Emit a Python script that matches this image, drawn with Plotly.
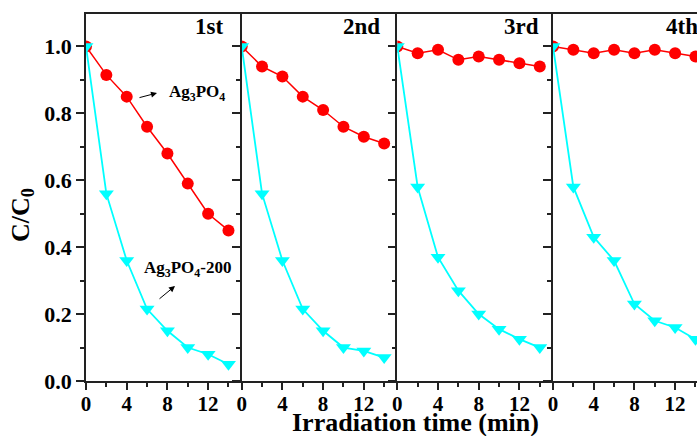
import plotly.graph_objects as go

# ---- data ----
time_min = [0, 2, 4, 6, 8, 10, 12, 14]
cycles = ["1st", "2nd", "3rd", "4th"]
ag3po4 = [
    [1.0, 0.915, 0.85, 0.76, 0.68, 0.59, 0.50, 0.45],
    [1.0, 0.94, 0.91, 0.85, 0.81, 0.76, 0.73, 0.71],
    [1.0, 0.98, 0.99, 0.96, 0.97, 0.96, 0.95, 0.94],
    [1.0, 0.99, 0.98, 0.99, 0.98, 0.99, 0.98, 0.97],
]
ag3po4_200 = [
    [1.0, 0.56, 0.36, 0.215, 0.15, 0.10, 0.08, 0.05],
    [1.0, 0.56, 0.36, 0.215, 0.15, 0.10, 0.09, 0.07],
    [1.0, 0.58, 0.37, 0.27, 0.20, 0.155, 0.125, 0.10],
    [1.0, 0.58, 0.43, 0.36, 0.23, 0.18, 0.16, 0.125],
]
x_ticks = [0, 4, 8, 12]

# ---- layout geometry ----
W, H = 697, 436
L, R, T, B = 86, 0, 14, 55
pw = W - L - R
ph = H - T - B
edges = [86, 241.7, 397.3, 553.0]
panel_w = edges[1] - edges[0]
xmax_full = 15.3
font_fam = "Liberation Serif, Times New Roman, serif"
axc = "#222222"


def px_x(p):
    return (p - L) / pw


def px_y(p):
    return (H - B - p) / ph


fig = go.Figure()
for i in range(4):
    xa = "x" if i == 0 else f"x{i+1}"
    ya = "y" if i == 0 else f"y{i+1}"
    fig.add_trace(go.Scatter(
        x=time_min, y=ag3po4[i], xaxis=xa, yaxis=ya, mode="lines+markers",
        line=dict(color="#FF0000", width=1.5),
        marker=dict(symbol="circle", size=12, color="#FF0000"),
        showlegend=False, hoverinfo="skip"))
    fig.add_trace(go.Scatter(
        x=time_min, y=ag3po4_200[i], xaxis=xa, yaxis=ya, mode="lines+markers",
        line=dict(color="#00FFFF", width=1.8),
        marker=dict(symbol="triangle-down", size=13, color="#00FFFF"),
        showlegend=False, hoverinfo="skip"))

layout = dict(
    width=W, height=H,
    margin=dict(l=L, r=R, t=T, b=B),
    paper_bgcolor="white", plot_bgcolor="white",
    font=dict(family=font_fam, color="black"),
)
for i in range(4):
    x0 = edges[i]
    x1 = edges[i] + panel_w if i < 3 else W
    rng = xmax_full if i < 3 else (W - edges[3]) / panel_w * xmax_full
    sx = "" if i == 0 else str(i + 1)
    layout["xaxis" + sx] = dict(
        domain=[px_x(x0), min(1.0, px_x(x1))],
        anchor="y" + sx, range=[0, rng],
        tickvals=x_ticks, ticktext=[str(v) for v in x_ticks],
        ticks="outside", ticklen=7, tickwidth=1.5, tickcolor=axc,
        minor=dict(dtick=2, tick0=0, ticks="outside", ticklen=4, tickwidth=1.5, tickcolor=axc),
        showline=True, linecolor=axc, linewidth=1.5, mirror=True,
        showgrid=False, zeroline=False, ticklabelstandoff=-4,
        tickfont=dict(family=font_fam, size=21, weight="bold", color="black"),
    )
    layout["yaxis" + sx] = dict(
        domain=[0, 1], anchor="x" + sx, range=[0, 1.097],
        dtick=0.2, tick0=0, tickformat=".1f",
        ticks="outside", ticklen=8, tickwidth=1.5, tickcolor=axc,
        minor=dict(dtick=0.1, tick0=0, ticks="outside", ticklen=4, tickwidth=1.5, tickcolor=axc),
        showline=True, linecolor=axc, linewidth=1.5, mirror=False,
        showgrid=False, zeroline=False, showticklabels=(i == 0),
        tickfont=dict(family=font_fam, size=22, weight="bold", color="black"),
    )
fig.update_layout(**layout)

ann = []
# cycle labels
label_pos = [(225, "right"), (382, "right"), (541, "right"), (664, "left")]
for (xp, anc), lab in zip(label_pos, cycles):
    ann.append(dict(x=px_x(xp), y=px_y(27), xref="paper", yref="paper",
                    text=f"<b>{lab}</b>", showarrow=False, xanchor=anc, yanchor="middle",
                    font=dict(family=font_fam, size=23, color="black")))
# series labels
ann.append(dict(x=px_x(167), y=px_y(93), xref="paper", yref="paper",
                text="<b>Ag<sub>3</sub>PO<sub>4</sub></b>", showarrow=False,
                xanchor="left", yanchor="middle",
                font=dict(family=font_fam, size=17, color="black")))
ann.append(dict(x=px_x(142), y=px_y(269), xref="paper", yref="paper",
                text="<b>Ag<sub>3</sub>PO<sub>4</sub>-200</b>", showarrow=False,
                xanchor="left", yanchor="middle",
                font=dict(family=font_fam, size=17, color="black")))
# arrows
ann.append(dict(x=px_x(157), y=px_y(93), xref="paper", yref="paper", text="",
                showarrow=True, ax=-19, ay=5, arrowhead=2, arrowsize=1.2,
                arrowwidth=1, arrowcolor="black"))
ann.append(dict(x=px_x(175), y=px_y(286), xref="paper", yref="paper", text="",
                showarrow=True, ax=-17, ay=14, arrowhead=2, arrowsize=1.2,
                arrowwidth=1, arrowcolor="black"))
# axis titles
ann.append(dict(x=px_x(415), y=px_y(423), xref="paper", yref="paper",
                text="<b>Irradiation time (min)</b>", showarrow=False,
                xanchor="center", yanchor="middle",
                font=dict(family=font_fam, size=26, color="black")))
ann.append(dict(x=px_x(22), y=px_y(215), xref="paper", yref="paper",
                text="<b>C/C<sub>0</sub></b>", showarrow=False, textangle=-90,
                xanchor="center", yanchor="middle",
                font=dict(family=font_fam, size=26, color="black")))
fig.update_layout(annotations=ann)

fig.write_html("out.html", config={"displayModeBar": False},
               post_script="document.body.style.margin='0';document.body.style.overflow='hidden';")
